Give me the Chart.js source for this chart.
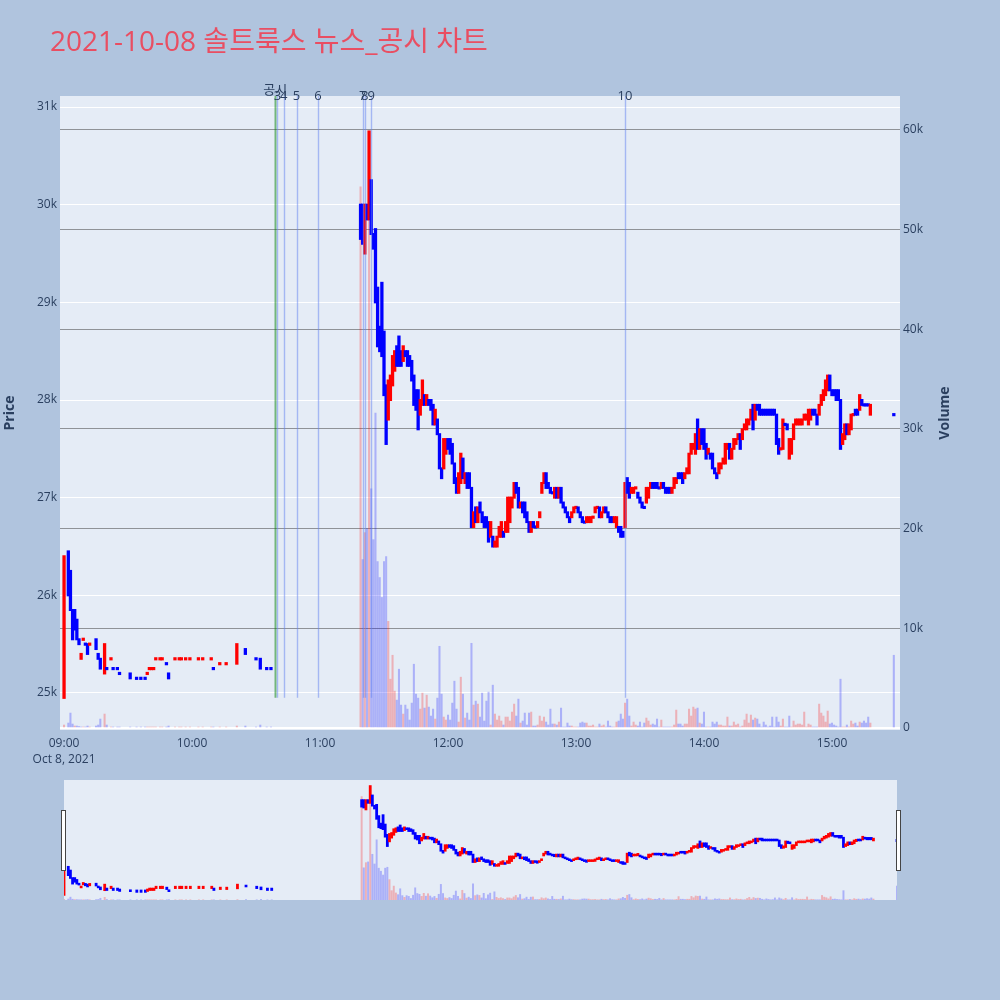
<!DOCTYPE html>
<html>
<head>
<meta charset="utf-8">
<title>솔트룩스 뉴스_공시 차트</title>
<script src="https://cdn.jsdelivr.net/npm/chart.js@4.4.0/dist/chart.umd.min.js"></script>
<style>
  html, body { margin: 0; padding: 0; background: #b0c4de; }
  #wrap { position: relative; width: 1000px; height: 1000px; overflow: hidden; }
  #title { position: absolute; left: 50px; top: 21px; line-height: 38px; font-size: 28px;
           font-family: "Open Sans", "Noto Sans CJK KR", sans-serif; color: #e94e62; white-space: nowrap; }
  #main { position: absolute; left: 0; top: 0; }
  #slider { position: absolute; left: 0; top: 770px; }
</style>
</head>
<body>
<div id="wrap">
  <canvas id="main" width="1000" height="770"></canvas>
  <canvas id="slider" width="1000" height="140"></canvas>
  <div id="title">2021-10-08 솔트룩스 뉴스_공시 차트</div>
</div>
<script>
// ---- data (minutes are counted from 09:00) ----
const hourTicks  = [0, 60, 120, 180, 240, 300, 360];
const hourLabels = ['09:00', '10:00', '11:00', '12:00', '13:00', '14:00', '15:00'];
const dateLabel  = 'Oct 8, 2021';
const priceTicks  = [25000, 26000, 27000, 28000, 29000, 30000, 31000];
const volumeTicks = [0, 10000, 20000, 30000, 40000, 50000, 60000];

// morning session, sparse trades
const amMins   = [0, 2, 3, 4, 5, 6, 7, 8, 9, 10, 11, 12, 15, 16, 17, 19, 20, 22, 23, 25, 26, 31, 34, 36, 38, 39,
                  40, 41, 42, 43, 45, 46, 48, 49, 52, 54, 55, 57, 59, 63, 65, 69, 70, 73, 76, 81, 85, 90, 92, 95, 97];
const amOpens  = [24950, 26450, 26250, 25850, 25850, 25750, 25550, 25350, 25550, 25500, 25500, 25500, 25550, 25400, 25350, 25200, 25250, 25350, 25250, 25250, 25200, 25200, 25150, 25150, 25150, 25200,
                  25250, 25250, 25250, 25350, 25350, 25350, 25300, 25200, 25350, 25350, 25350, 25350, 25350, 25350, 25350, 25350, 25250, 25300, 25300, 25300, 25450, 25350, 25350, 25250, 25250];
const amCloses = [26400, 26000, 25850, 25550, 25650, 25550, 25500, 25400, 25550, 25500, 25400, 25500, 25450, 25350, 25250, 25500, 25250, 25350, 25250, 25250, 25200, 25150, 25150, 25150, 25150, 25200,
                  25250, 25250, 25250, 25350, 25350, 25350, 25300, 25150, 25350, 25350, 25350, 25350, 25350, 25350, 25350, 25350, 25250, 25300, 25300, 25500, 25400, 25350, 25250, 25250, 25250];
const amVols   = [300, 500, 1500, 400, 200, 200, 150, 100, 100, 100, 200, 100, 200, 300, 900, 1400, 300, 100, 100, 100, 100, 100, 100, 100, 100, 100,
                  100, 100, 100, 100, 100, 100, 100, 200, 100, 100, 100, 100, 100, 100, 100, 100, 100, 100, 100, 200, 200, 100, 300, 100, 100];

// afternoon session, one candle per minute from 11:19 to 15:18
const pmFirst = '11:19';
const pmOpens = [
  30000, 30000, 29500, 30000, 29850, 30250, 29700, 29750, 29150, 28750,
  29200, 28700, 28150, 27800, 28000, 28150, 28300, 28550, 28650, 28500,
  28400, 28500, 28500, 28450, 28400, 28250, 28100, 28100, 27850, 27950,
  28050, 27950, 28000, 28000, 27950, 27750, 27800, 27650, 27300, 27300,
  27450, 27600, 27600, 27550, 27350, 27200, 27050, 27150, 27400, 27150,
  27250, 27250, 27100, 26700, 26900, 26750, 26950, 26850, 26800, 26800,
  26750, 26600, 26600, 26500, 26500, 26600, 26600, 26650, 26650, 26650,
  26750, 26900, 27000, 27150, 27100, 26900, 26950, 26950, 26850, 26750,
  26650, 26750, 26700, 26700, 26800, 27050, 27150, 27250, 27150, 27100,
  27050, 27000, 27100, 27000, 27100, 26950, 26900, 26850, 26800, 26800,
  26850, 26900, 26900, 26850, 26800, 26750, 26750, 26750, 26750, 26800,
  26850, 26900, 26900, 26800, 26850, 26900, 26850, 26800, 26800, 26750,
  26700, 26700, 26700, 26650, 26700, 27200, 27150, 27050, 27050, 27100,
  27050, 27000, 26950, 26900, 26950, 27000, 27100, 27150, 27150, 27150,
  27100, 27100, 27150, 27100, 27100, 27100, 27050, 27100, 27150, 27250,
  27250, 27250, 27200, 27250, 27250, 27450, 27500, 27450, 27800, 27500,
  27700, 27700, 27550, 27450, 27450, 27450, 27300, 27250, 27250, 27300,
  27350, 27350, 27500, 27550, 27400, 27500, 27550, 27600, 27650, 27600,
  27700, 27700, 27750, 27800, 27950, 27800, 27950, 27950, 27900, 27900,
  27900, 27900, 27900, 27900, 27900, 27850, 27600, 27500, 27500, 27750,
  27750, 27400, 27450, 27600, 27750, 27750, 27750, 27750, 27800, 27800,
  27750, 27800, 27900, 27900, 27850, 27850, 27950, 28000, 28050, 28100,
  28250, 28100, 28100, 28100, 28100, 28000, 27550, 27600, 27750, 27650,
  27700, 27850, 27900, 27900, 27900, 28000, 27950, 27950, 27950, 27850
];
const pmCloses = [
  29650, 29600, 30000, 29850, 30750, 29700, 29550, 29000, 28550, 28500,
  28450, 28050, 27550, 28200, 28250, 28450, 28500, 28350, 28350, 28350,
  28550, 28450, 28350, 28350, 28200, 27950, 27900, 27700, 28000, 28200,
  27950, 28050, 27950, 27900, 27750, 27900, 27650, 27300, 27200, 27600,
  27600, 27500, 27450, 27350, 27150, 27050, 27250, 27450, 27200, 27250,
  27100, 27100, 26700, 26850, 26750, 26900, 26850, 26750, 26700, 26700,
  26550, 26750, 26500, 26550, 26600, 26700, 26750, 26600, 26750, 27000,
  27000, 27000, 27150, 27050, 26900, 26950, 26850, 26800, 26750, 26650,
  26750, 26700, 26700, 26750, 26850, 27150, 27250, 27100, 27100, 27050,
  27050, 27100, 27000, 27100, 26950, 26900, 26850, 26800, 26750, 26850,
  26900, 26900, 26850, 26800, 26750, 26750, 26800, 26800, 26800, 26800,
  26900, 26900, 26800, 26850, 26900, 26850, 26800, 26750, 26750, 26800,
  26800, 26650, 26600, 26600, 27150, 27050, 27000, 27100, 27100, 27100,
  27000, 26950, 26900, 26900, 27100, 27100, 27150, 27100, 27100, 27100,
  27100, 27150, 27100, 27050, 27050, 27050, 27100, 27200, 27200, 27200,
  27200, 27150, 27250, 27300, 27450, 27550, 27550, 27650, 27500, 27700,
  27550, 27500, 27400, 27500, 27400, 27300, 27250, 27200, 27350, 27350,
  27400, 27550, 27550, 27400, 27500, 27600, 27600, 27650, 27500, 27700,
  27750, 27800, 27800, 27900, 27700, 27950, 27900, 27850, 27850, 27850,
  27850, 27850, 27850, 27850, 27850, 27550, 27450, 27500, 27800, 27750,
  27700, 27600, 27600, 27750, 27800, 27800, 27800, 27800, 27850, 27850,
  27900, 27900, 27850, 27850, 27750, 27950, 28050, 28100, 28200, 28250,
  28100, 28050, 28050, 28000, 28000, 27500, 27650, 27750, 27650, 27750,
  27850, 27850, 27850, 27850, 28050, 27950, 27950, 27950, 27950, 27950
];
const pmVols = [
  54300, 16900, 19600, 20000, 59800, 24000, 18900, 31600, 16700, 15100,
  13100, 16700, 17200, 10700, 4900, 7300, 3700, 2800, 5900, 2300,
  1400, 2300, 1900, 800, 2500, 6400, 3400, 3000, 1900, 3500,
  2000, 3300, 2100, 1200, 1900, 900, 3000, 8200, 3400, 1100,
  800, 1300, 800, 2500, 4700, 1900, 600, 5100, 3400, 1000,
  1500, 800, 8500, 2300, 2700, 2400, 1100, 3500, 700, 2700,
  3600, 300, 4300, 1400, 800, 1200, 700, 300, 1100, 1100,
  700, 1600, 2400, 1200, 2900, 500, 700, 1500, 300, 1500,
  1600, 200, 200, 300, 1200, 700, 1100, 600, 300, 1900,
  400, 400, 300, 600, 2000, 100, 100, 500, 200, 200,
  100, 100, 100, 500, 600, 500, 500, 200, 200, 300,
  100, 100, 400, 200, 300, 100, 700, 200, 100, 100,
  600, 700, 1400, 900, 2500, 2900, 1200, 200, 600, 300,
  200, 600, 100, 500, 1000, 700, 300, 400, 300, 900,
  100, 800, 100, 100, 100, 100, 100, 300, 1800, 400,
  400, 200, 400, 400, 1900, 1200, 2100, 1900, 2000, 500,
  400, 1600, 100, 100, 100, 600, 400, 600, 300, 300,
  200, 200, 1100, 200, 200, 600, 300, 400, 100, 200,
  800, 1400, 500, 1300, 800, 1000, 900, 400, 100, 600,
  300, 100, 200, 1100, 100, 1100, 600, 200, 900, 100,
  100, 1200, 100, 700, 300, 400, 400, 300, 1600, 100,
  400, 300, 100, 100, 100, 2400, 1500, 1200, 600, 1700,
  400, 500, 300, 200, 100, 4900, 100, 100, 300, 100,
  700, 400, 500, 200, 600, 500, 700, 500, 1100, 500
];

// closing auction
const closeTime  = '15:29';
const closePrice = 27850;
const closeVol   = 7300;

// news / disclosure markers
const eventLabels = ['공시', '3', '4', '5', '6', '7', '8', '9', '10'];
const eventTimes  = ['10:39', '10:40', '10:43', '10:49', '10:59', '11:20', '11:21', '11:24', '13:23'];

// ---- helpers ----
const FONT = '"Open Sans", "Noto Sans CJK KR", sans-serif';
const TEXT = '#2a3f5f';
Chart.defaults.font.family = FONT;
Chart.defaults.font.size = 12;
Chart.defaults.color = TEXT;

const toMin = t => {
  const [h, mm] = t.split(':').map(Number);
  return (h - 9) * 60 + mm;
};

const candles = [];
amMins.forEach((m, i) => candles.push({ m, o: amOpens[i], c: amCloses[i], v: amVols[i] }));
pmOpens.forEach((o, i) => candles.push({ m: toMin(pmFirst) + i, o, c: pmCloses[i], v: pmVols[i] }));
candles.push({ m: toMin(closeTime), o: closePrice, c: closePrice, v: closeVol });

// red = up, blue = down; a flat candle takes its colour from the previous close
let prevClose = null, prevUp = true;
candles.forEach(k => {
  let up;
  if (k.c > k.o) up = true;
  else if (k.c < k.o) up = false;
  else up = prevClose === null ? true : (k.c > prevClose ? true : k.c < prevClose ? false : prevUp);
  k.up = up;
  k.volUp = prevClose === null ? up : (k.c > prevClose ? true : k.c < prevClose ? false : up);
  prevClose = k.c;
  prevUp = up;
});

const sessionLow = Math.min(...candles.map(k => Math.min(k.o, k.c)));

const bodyData = dojiHalf => candles.map(k => ({
  x: k.m,
  y: k.o === k.c ? [k.c - dojiHalf, k.c + dojiHalf] : [k.o, k.c]
}));
const bodyColors = candles.map(k => (k.up ? '#ff0000' : '#0000ff'));
const volData = candles.map(k => ({ x: k.m, y: k.v }));
const volColors = candles.map(k => (k.volUp ? 'rgba(255,0,0,0.25)' : 'rgba(0,0,255,0.25)'));

const setTicks = list => scale => { scale.ticks = list.map(v => ({ value: v })); };

const plotBg = {
  id: 'plotBg',
  beforeDraw(chart) {
    const { ctx, chartArea: a } = chart;
    ctx.save();
    ctx.fillStyle = '#e5ecf6';
    ctx.fillRect(a.left, a.top, a.right - a.left, a.bottom - a.top);
    ctx.restore();
  }
};

const eventMarks = {
  id: 'eventMarks',
  afterDatasetsDraw(chart) {
    const { ctx, chartArea: a, scales } = chart;
    const yBottom = scales.yp.getPixelForValue(sessionLow);
    ctx.save();
    eventTimes.forEach((t, i) => {
      const x = Math.round(scales.x.getPixelForValue(toMin(t))) + 0.5;
      const isNotice = i === 0;
      ctx.strokeStyle = isNotice ? 'rgba(0,128,0,0.5)' : 'rgba(100,130,240,0.5)';
      ctx.lineWidth = isNotice ? 2 : 1.4;
      ctx.beginPath();
      ctx.moveTo(x, a.top);
      ctx.lineTo(x, yBottom);
      ctx.stroke();
    });
    ctx.restore();
  },
  afterDraw(chart) {
    const { ctx, chartArea: a, scales } = chart;
    ctx.save();
    ctx.fillStyle = TEXT;
    ctx.textAlign = 'center';
    ctx.textBaseline = 'middle';
    ctx.font = '13px ' + FONT;
    eventTimes.forEach((t, i) => {
      const x = scales.x.getPixelForValue(toMin(t));
      ctx.fillText(eventLabels[i], x, i === 0 ? a.top - 6 : a.top);
    });
    // axis titles, both read bottom to top
    ctx.font = 'bold 14px ' + FONT;
    const midY = (a.top + a.bottom) / 2;
    [['Price', 10], ['Volume', 945]].forEach(([txt, x]) => {
      ctx.save();
      ctx.translate(x, midY);
      ctx.rotate(-Math.PI / 2);
      ctx.fillText(txt, 0, 0);
      ctx.restore();
    });
    ctx.restore();
  }
};

const sliderHandles = {
  id: 'sliderHandles',
  afterDraw(chart) {
    const { ctx, chartArea: a } = chart;
    const midY = (a.top + a.bottom) / 2;
    ctx.save();
    ctx.fillStyle = '#ffffff';
    ctx.strokeStyle = '#444444';
    ctx.lineWidth = 1;
    [a.left - 1, a.right + 1].forEach(x => {
      ctx.fillRect(x - 2, midY - 30, 4, 60);
      ctx.strokeRect(x - 2 + 0.5, midY - 30 + 0.5, 4, 60);
    });
    ctx.restore();
  }
};

// ---- main chart ----
new Chart(document.getElementById('main'), {
  type: 'bar',
  data: {
    datasets: [
      { label: 'Price', data: bodyData(6), backgroundColor: bodyColors, yAxisID: 'yp',
        barThickness: 1.3, inflateAmount: 1, grouped: false, order: 0 },
      { label: 'Volume', data: volData, backgroundColor: volColors, yAxisID: 'yv',
        barThickness: 1.4, grouped: false, order: 1 }
    ]
  },
  options: {
    responsive: false,
    animation: false,
    devicePixelRatio: 1,
    layout: { padding: { top: 96, right: 44, left: 0, bottom: 0 } },
    plugins: { legend: { display: false }, tooltip: { enabled: false } },
    scales: {
      x: {
        type: 'linear', min: -1.9, max: 391.9, offset: false,
        afterBuildTicks: setTicks(hourTicks),
        afterFit: s => { s.height = 40; },
        grid: { display: false, drawTicks: false },
        border: { display: false },
        ticks: {
          autoSkip: false, maxRotation: 0, padding: 5,
          font: { size: 12, lineHeight: 1.35 },
          callback: v => {
            const lbl = hourLabels[hourTicks.indexOf(v)];
            return v === 0 ? [lbl, dateLabel] : lbl;
          }
        }
      },
      yp: {
        type: 'linear', position: 'left', min: 24621, max: 31113,
        afterBuildTicks: setTicks(priceTicks),
        afterFit: s => { s.width = 60; },
        grid: { color: '#ffffff', lineWidth: 1, drawTicks: false },
        border: { display: false },
        ticks: { padding: 3, callback: v => v / 1000 + 'k' }
      },
      yv: {
        type: 'linear', position: 'right', min: -200, max: 63410,
        afterBuildTicks: setTicks(volumeTicks),
        afterFit: s => { s.width = 56; },
        grid: {
          drawTicks: false,
          color: c => (c.tick && c.tick.value === 0 ? '#ffffff' : '#8f9297'),
          lineWidth: c => (c.tick && c.tick.value === 0 ? 2 : 1)
        },
        border: { display: false },
        ticks: { padding: 3, callback: v => (v === 0 ? '0' : v / 1000 + 'k') }
      }
    }
  },
  plugins: [plotBg, eventMarks]
});

// ---- range slider ----
new Chart(document.getElementById('slider'), {
  type: 'bar',
  data: {
    datasets: [
      { data: bodyData(40), backgroundColor: bodyColors, yAxisID: 'yp',
        barThickness: 1.2, inflateAmount: 0.8, grouped: false, order: 0 },
      { data: volData, backgroundColor: volColors, yAxisID: 'yv',
        barThickness: 1.3, grouped: false, order: 1 }
    ]
  },
  options: {
    responsive: false,
    animation: false,
    devicePixelRatio: 1,
    layout: { padding: { top: 10, right: 103, left: 64, bottom: 10 } },
    plugins: { legend: { display: false }, tooltip: { enabled: false } },
    scales: {
      x: { type: 'linear', display: false, min: 0, max: toMin(closeTime), offset: false },
      yp: { type: 'linear', display: false, min: 24680, max: 31070 },
      yv: { type: 'linear', display: false, min: 0, max: 63000 }
    }
  },
  plugins: [plotBg, sliderHandles]
});
</script>
</body>
</html>
